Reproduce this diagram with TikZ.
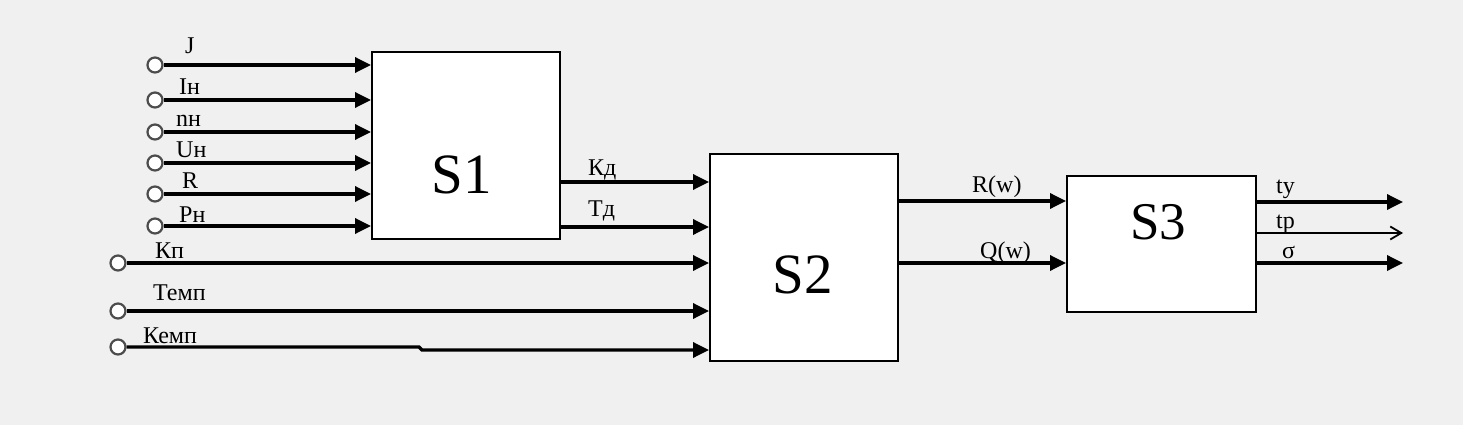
\documentclass[tikz,border=0pt]{standalone}
\usepackage{fontspec}
\setmainfont{Liberation Serif}
\usetikzlibrary{arrows.meta}
\definecolor{bgc}{HTML}{F0F0F0}
\begin{document}
\begin{tikzpicture}[x=1pt,y=-1pt,
  box/.style={draw, fill=white, line width=2.4pt, inner sep=0pt, anchor=north west},
  term/.style={circle, draw=black!70, fill=white, line width=2.2pt, minimum size=15pt, inner sep=0pt},
  sig/.style={line width=3.4pt, -{Triangle[length=16pt,width=15pt]}},
  thinsig/.style={line width=1.8pt, -{Straight Barb[length=11pt,width=13pt]}},
  lbl/.style={font=\fontsize{24}{26}\selectfont, inner sep=0pt, anchor=base west},
  big/.style={font=\fontsize{57}{62}\selectfont, inner sep=0pt}]
\fill[bgc] (0,0) rectangle (1463,425);
\useasboundingbox (0,0) rectangle (1463,425);

% blocks
\node[box, minimum width=188pt, minimum height=187pt] (S1) at (371,51) {};
\node[box, minimum width=188pt, minimum height=207pt] (S2) at (709,153) {};
\node[box, minimum width=189pt, minimum height=136pt] (S3) at (1066,175) {};
\node[big] (tS1) at (462,175) {S1};
\node[big] (tS2) at (803,275) {S2};
\node[big, font=\fontsize{53}{58}\selectfont] (tS3) at (1158,222) {S3};

% inputs of S1
\node[term] (i1) at (155,65) {};
\node[term] (i2) at (155,100) {};
\node[term] (i3) at (155,132) {};
\node[term] (i4) at (155,163) {};
\node[term] (i5) at (155,194) {};
\node[term] (i6) at (155,226) {};
\foreach \i in {1,...,6} \draw[sig] (i\i) -- (i\i -| S1.west);
\node[lbl] (lJ) at (185,54) {J};
\node[lbl] (lI) at (179,95) {Iн};
\node[lbl] (ln) at (176,127) {nн};
\node[lbl] (lU) at (176,157) {Uн};
\node[lbl] (lR) at (182,188) {R};
\node[lbl] (lP) at (179,222) {Pн};

% long inputs of S2
\node[term] (k1) at (118,263) {};
\node[term] (k2) at (118,311) {};
\node[term] (k3) at (118,347) {};
\coordinate (st1) at (419,347);
\coordinate (st2) at (422,350);
\draw[sig] (k1) -- (k1 -| S2.west);
\draw[sig] (k2) -- (k2 -| S2.west);
\draw[sig] (k3) -- (st1) -- (st2) -- (st2 -| S2.west);
\node[lbl] (lKp) at (155,258) {Кп};
\node[lbl] (lT) at (153,300) {Темп};
\node[lbl] (lK) at (143,343) {Кемп};

% S1 -> S2
\coordinate (a1) at (559,182);
\coordinate (a2) at (559,227);
\draw[sig] (a1 -| S1.east) -- (a1 -| S2.west);
\draw[sig] (a2 -| S1.east) -- (a2 -| S2.west);
\node[lbl] (lKd) at (588,175) {Кд};
\node[lbl] (lTd) at (588,216) {Тд};

% S2 -> S3
\coordinate (b1) at (897,201);
\coordinate (b2) at (897,263);
\draw[sig] (b1 -| S2.east) -- (b1 -| S3.west);
\draw[sig] (b2 -| S2.east) -- (b2 -| S3.west);
\node[lbl] (lRw) at (972,192) {R(w)};
\node[lbl] (lQw) at (980,258) {Q(w)};

% outputs of S3
\coordinate (o1) at (1403,202);
\coordinate (o2) at (1403,233);
\coordinate (o3) at (1403,263);
\draw[sig] (o1 -| S3.east) -- (o1);
\draw[thinsig] (o2 -| S3.east) -- (o2);
\draw[sig] (o3 -| S3.east) -- (o3);
\node[lbl] (lty) at (1276,193) {tу};
\node[lbl] (ltp) at (1276,228) {tр};
\node[lbl] (lsg) at (1282,258) {σ};
\end{tikzpicture}
\end{document}
